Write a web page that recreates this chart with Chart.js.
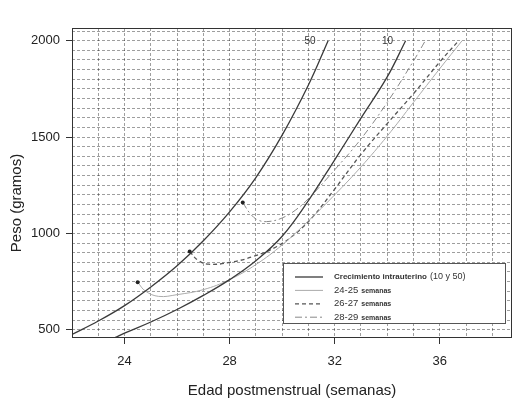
<!DOCTYPE html>
<html>
<head>
<meta charset="utf-8">
<script src="https://cdn.jsdelivr.net/npm/chart.js@4.4.0/dist/chart.umd.min.js"></script>
<style>
  body { margin: 0; background: #fff; }
  #wrap { width: 521px; height: 404px; }
</style>
</head>
<body>
<div id="wrap"><canvas id="growthChart" width="521" height="404"></canvas></div>
<script>
// Intrauterine growth percentiles (postmenstrual weeks / grams)
const p50Weeks = [22, 23, 24, 25, 26, 27, 28, 29, 30, 31, 31.75];
const p50Weights = [475, 545, 625, 722, 832, 962, 1112, 1290, 1510, 1770, 2000];
const p10Weeks = [23.65, 24, 25, 26, 27, 28, 29, 30, 31, 32, 33, 34, 34.7];
const p10Weights = [460, 482, 540, 605, 678, 760, 858, 985, 1170, 1382, 1598, 1812, 2000];

// Postnatal growth by gestational age at birth
const w24Weeks = [24.5, 24.8, 25.3, 26, 27, 28, 29, 30, 31, 32, 33, 34, 35, 36, 36.85];
const w24Weights = [746, 700, 673, 682, 708, 760, 838, 940, 1065, 1200, 1345, 1505, 1680, 1855, 2000];
const w26Weeks = [26.48, 26.8, 27.2, 28, 28.9, 29.8, 30.56, 31.18, 32, 33, 34, 35, 36, 36.72];
const w26Weights = [906, 860, 840, 849, 880, 932, 1005, 1088, 1230, 1410, 1570, 1725, 1890, 2000];
const w28Weeks = [28.5, 28.8, 29.1, 29.5, 30, 30.5, 31, 32, 33, 34, 35, 35.45];
const w28Weights = [1160, 1100, 1068, 1062, 1080, 1120, 1180, 1330, 1490, 1680, 1895, 2000];

const pctLabels = ['50', '10'];
const tickWeeks = [24, 28, 32, 36];
const tickWeights = [500, 1000, 1500, 2000];
const legendLabels = ['Crecimiento intrauterino', '24-25', '26-27', '28-29'];
const legendSuffixes = ['(10 y 50)', 'semanas', 'semanas', 'semanas'];

const FONT = "'Liberation Sans', Arial, sans-serif";
Chart.defaults.font.family = FONT;
Chart.defaults.color = '#222';

const toPoints = (xs, ys) => xs.map((x, i) => ({ x: x, y: ys[i] }));
// only the first point of the postnatal curves gets a dot
const startDot = ctx => ctx.dataIndex === 0 ? 2 : 0;

const datasets = [
  { data: toPoints(p50Weeks, p50Weights), borderColor: '#3a3a3a', borderWidth: 1.3, pointRadius: 0 },
  { data: toPoints(p10Weeks, p10Weights), borderColor: '#3a3a3a', borderWidth: 1.3, pointRadius: 0 },
  { data: toPoints(w24Weeks, w24Weights), borderColor: '#ababab', borderWidth: 1, pointRadius: startDot },
  { data: toPoints(w26Weeks, w26Weights), borderColor: '#555', borderWidth: 1.3, borderDash: [4, 3], pointRadius: startDot },
  { data: toPoints(w28Weeks, w28Weights), borderColor: '#888', borderWidth: 1, borderDash: [7, 3, 2, 3], pointRadius: startDot }
];
datasets.forEach(d => {
  d.fill = false;
  d.tension = 0.4;
  d.pointBackgroundColor = '#222';
  d.pointBorderWidth = 0;
});

// frame, curve labels, legend box and y title
const chartDecor = {
  id: 'chartDecor',
  afterDatasetsDraw(chart) {
    const { ctx, chartArea: a } = chart;
    ctx.save();
    ctx.strokeStyle = '#333';
    ctx.lineWidth = 1;
    ctx.setLineDash([]);
    ctx.strokeRect(a.left + 0.5, a.top + 0.5, a.width - 1, a.height - 1);

    // "50" / "10" to the left of each percentile's top end
    ctx.font = '10px ' + FONT;
    ctx.fillStyle = '#333';
    ctx.textAlign = 'center';
    ctx.textBaseline = 'middle';
    pctLabels.forEach((txt, i) => {
      const pts = chart.getDatasetMeta(i).data;
      const last = pts[pts.length - 1];
      ctx.fillText(txt, last.x - 18, last.y + 1);
    });

    // legend
    const bw = 222, bh = 60;
    const bx = a.right - 7 - bw, by = a.bottom - 15 - bh;
    ctx.fillStyle = '#fff';
    ctx.fillRect(bx, by, bw, bh);
    ctx.strokeStyle = '#555';
    ctx.strokeRect(bx + 0.5, by + 0.5, bw, bh);
    const rowDs = [datasets[0], datasets[2], datasets[3], datasets[4]];
    ctx.textAlign = 'left';
    legendLabels.forEach((lbl, i) => {
      const ds = rowDs[i];
      const ry = by + 14 + i * 13.4;
      ctx.beginPath();
      ctx.strokeStyle = ds.borderColor;
      ctx.lineWidth = ds.borderWidth;
      ctx.setLineDash(ds.borderDash || []);
      ctx.moveTo(bx + 12, ry);
      ctx.lineTo(bx + 40, ry);
      ctx.stroke();
      ctx.setLineDash([]);
      ctx.fillStyle = '#333';
      let tx = bx + 51;
      if (i === 0) {
        ctx.font = 'bold 8px ' + FONT;
        ctx.fillText(lbl, tx, ry);
        tx += ctx.measureText(lbl).width + 3;
        ctx.font = '9px ' + FONT;
        ctx.fillText(legendSuffixes[i], tx, ry);
      } else {
        ctx.font = '9.5px ' + FONT;
        ctx.fillText(lbl, tx, ry);
        tx += ctx.measureText(lbl).width + 3;
        ctx.font = 'bold 7px ' + FONT;
        ctx.fillText(legendSuffixes[i], tx, ry + 0.5);
      }
    });
    ctx.restore();
  },
  afterDraw(chart) {
    const { ctx, chartArea: a } = chart;
    ctx.save();
    ctx.translate(17, a.top + 175);
    ctx.rotate(-Math.PI / 2);
    ctx.font = '15px ' + FONT;
    ctx.fillStyle = '#222';
    ctx.textAlign = 'center';
    ctx.textBaseline = 'middle';
    ctx.fillText('Peso (gramos)', 0, 0);
    ctx.restore();
  }
};

const gridColor = 'rgba(0,0,0,0.38)';
const majorTick = list => c => (c.tick && list.includes(c.tick.value)) ? '#333' : 'rgba(0,0,0,0)';

new Chart(document.getElementById('growthChart').getContext('2d'), {
  type: 'line',
  data: { datasets: datasets },
  options: {
    responsive: false,
    animation: false,
    layout: { padding: { top: 28, right: 9, left: 0, bottom: 0 } },
    plugins: { legend: { display: false }, tooltip: { enabled: false } },
    scales: {
      x: {
        type: 'linear',
        min: 22,
        max: 38.75,
        afterBuildTicks: s => {
          const t = [];
          for (let w = 22; w <= 38; w++) t.push({ value: w });
          s.ticks = t;
        },
        afterFit: s => { s.height = 66; },
        ticks: {
          autoSkip: false,
          maxRotation: 0,
          padding: 10,
          font: { size: 13 },
          callback: v => tickWeeks.includes(v) ? String(v) : ''
        },
        grid: { color: gridColor, lineWidth: 1, tickLength: 6, tickColor: majorTick(tickWeeks) },
        border: { display: false, dash: [3, 2] },
        title: { display: true, text: 'Edad postmenstrual (semanas)', font: { size: 15 }, color: '#222', padding: { top: 0, bottom: 4 } }
      },
      y: {
        min: 457,
        max: 2066,
        afterBuildTicks: s => {
          const t = [];
          for (let g = 500; g <= 2050; g += 50) t.push({ value: g });
          s.ticks = t;
        },
        afterFit: s => { s.width = 72; },
        ticks: {
          autoSkip: false,
          padding: 6,
          font: { size: 13 },
          callback: v => tickWeights.includes(v) ? String(v) : ''
        },
        grid: { color: gridColor, lineWidth: 1, tickLength: 6, tickColor: majorTick(tickWeights) },
        border: { display: false, dash: [3, 2] }
      }
    }
  },
  plugins: [chartDecor]
});
</script>
</body>
</html>
